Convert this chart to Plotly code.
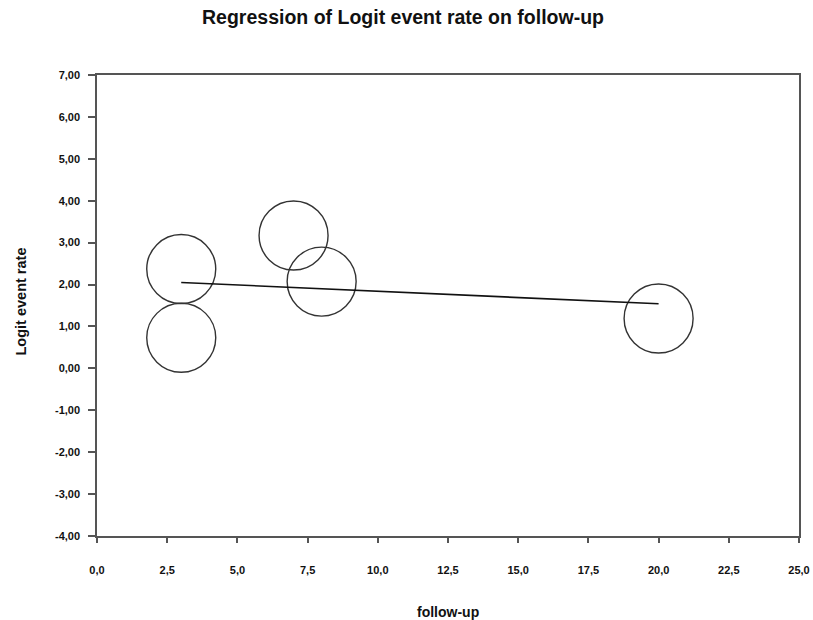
import plotly.graph_objects as go

# Study data
follow_up = [3, 3, 7, 8, 20]
logit_rate = [2.37, 0.73, 3.17, 2.07, 1.19]

# Regression line end points
fit_x = [3, 20]
fit_y = [2.05, 1.54]

x_ticks = [0, 2.5, 5, 7.5, 10, 12.5, 15, 17.5, 20, 22.5, 25]
y_ticks = [7, 6, 5, 4, 3, 2, 1, 0, -1, -2, -3, -4]
x_tick_text = [f"{v:.1f}".replace(".", ",") for v in x_ticks]
y_tick_text = [f"{v:.2f}".replace(".", ",") for v in y_ticks]

FONT = "Liberation Sans, Arial, sans-serif"

fig = go.Figure()
fig.add_trace(go.Scatter(
    x=follow_up, y=logit_rate, mode="markers",
    marker=dict(symbol="circle-open", size=69, color="#333333",
                line=dict(color="#333333", width=1.4)),
    showlegend=False, hoverinfo="x+y"))
fig.add_trace(go.Scatter(
    x=fit_x, y=fit_y, mode="lines",
    line=dict(color="#111111", width=1.6),
    showlegend=False))

axis_common = dict(
    showgrid=False, zeroline=False, showline=True, linecolor="#555555",
    linewidth=1.5, mirror=True, ticks="outside", tickcolor="#555555",
    tickwidth=1.5, automargin=False,
    tickfont=dict(family=FONT, size=11, color="#111111", weight="bold"),
)

fig.update_layout(
    width=813, height=620,
    margin=dict(l=97, r=14, t=75, b=84, pad=0),
    paper_bgcolor="white", plot_bgcolor="white",
    title=dict(text="Regression of Logit event rate on follow-up",
               font=dict(family=FONT, size=19.5, color="#111111", weight="bold"),
               x=403/813, xanchor="center", xref="container",
               y=1 - 17/620, yanchor="middle", yref="container"),
    xaxis=dict(range=[0, 25], tickvals=x_ticks, ticktext=x_tick_text,
               ticklen=5, ticklabelstandoff=18, **axis_common),
    yaxis=dict(range=[-4, 7], tickvals=y_ticks, ticktext=y_tick_text,
               ticklen=7, ticklabelstandoff=6, **axis_common),
    annotations=[
        dict(text="follow-up", xref="paper", yref="paper", x=0.5, y=0,
             yshift=-76, showarrow=False, yanchor="middle",
             font=dict(family=FONT, size=14, color="#111111", weight="bold")),
        dict(text="Logit event rate", xref="paper", yref="paper", x=0, y=0.5,
             xshift=-77, yshift=4, textangle=-90, showarrow=False, xanchor="center",
             font=dict(family=FONT, size=14.5, color="#111111", weight="bold")),
    ],
)

fig.write_html(
    "out.html",
    config={"displayModeBar": False},
    post_script="document.body.style.margin='0';document.body.style.padding='0';",
)
